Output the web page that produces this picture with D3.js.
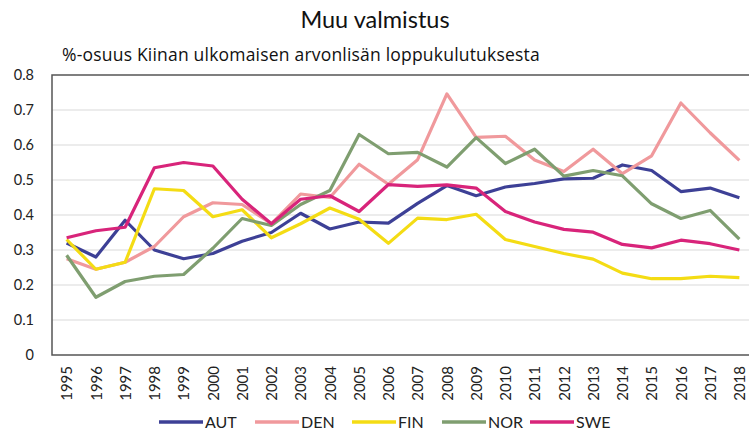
<!DOCTYPE html>
<html>
<head>
<meta charset="utf-8">
<script src="https://cdn.jsdelivr.net/npm/d3@7"></script>
<style>
  body { margin: 0; background: #fff; }
  svg { font-family: Lato, "Open Sans", sans-serif; }
</style>
</head>
<body>
<svg id="chart" width="749" height="433"></svg>
<script>
// data
const years = d3.range(1995, 2019).map(String);
const yTicks = [0, 0.1, 0.2, 0.3, 0.4, 0.5, 0.6, 0.7, 0.8];
const seriesNames = ["AUT", "DEN", "FIN", "NOR", "SWE"];
const aut = [0.32, 0.28, 0.385, 0.30, 0.275, 0.29, 0.325, 0.35, 0.405, 0.36, 0.38, 0.377, 0.433, 0.484, 0.455, 0.48, 0.49, 0.503, 0.505, 0.543, 0.527, 0.467, 0.477, 0.449];
const den = [0.275, 0.245, 0.265, 0.31, 0.395, 0.435, 0.43, 0.375, 0.46, 0.45, 0.545, 0.488, 0.558, 0.746, 0.622, 0.625, 0.557, 0.524, 0.588, 0.518, 0.569, 0.72, 0.635, 0.556];
const fin = [0.33, 0.245, 0.265, 0.475, 0.47, 0.395, 0.415, 0.335, 0.375, 0.42, 0.388, 0.319, 0.391, 0.387, 0.402, 0.33, 0.31, 0.29, 0.274, 0.234, 0.218, 0.218, 0.225, 0.221];
const nor = [0.285, 0.165, 0.21, 0.225, 0.23, 0.305, 0.39, 0.37, 0.43, 0.47, 0.63, 0.575, 0.579, 0.537, 0.621, 0.547, 0.588, 0.511, 0.527, 0.512, 0.432, 0.39, 0.413, 0.331];
const swe = [0.335, 0.355, 0.365, 0.535, 0.55, 0.54, 0.445, 0.375, 0.445, 0.455, 0.41, 0.487, 0.482, 0.486, 0.477, 0.41, 0.38, 0.359, 0.351, 0.316, 0.306, 0.328, 0.318, 0.3];
const colors = ["#3d4096", "#f0999c", "#f4dc14", "#7f9e70", "#d8247a"];

const allSeries = [aut, den, fin, nor, swe].map((vals, i) => ({ name: seriesNames[i], values: vals, color: colors[i] }));

const svg = d3.select("#chart");
const margin = { top: 75, right: -5, bottom: 78, left: 52 };
const W = 749, H = 433;
const innerW = W - margin.left - margin.right;
const innerH = H - margin.top - margin.bottom;

const x = d3.scalePoint().domain(years).range([0, innerW]).padding(0.5);
const y = d3.scaleLinear().domain([0, 0.8]).range([innerH, 0]);

// title + subtitle
svg.append("text").attr("x", 375).attr("y", 28).attr("text-anchor", "middle")
  .style("font-size", "23.5px").style("fill", "#111").text("Muu valmistus");
svg.append("text").attr("x", 62).attr("y", 61)
  .style("font-family", "'Open Sans', sans-serif")
  .style("font-size", "17.5px").style("fill", "#111")
  .style("letter-spacing", "0.2px")
  .text("%-osuus Kiinan ulkomaisen arvonlisän loppukulutuksesta");

const g = svg.append("g").attr("transform", `translate(${margin.left},${margin.top})`);

// gridlines
g.selectAll("line.grid").data(yTicks.filter(d => d > 0 && d < 0.8)).join("line")
  .attr("class", "grid")
  .attr("x1", 0).attr("x2", innerW)
  .attr("y1", d => y(d)).attr("y2", d => y(d))
  .style("stroke", "#d9d9d9").style("stroke-width", 1);

// frame
g.append("path")
  .attr("d", `M${innerW},0H0V${innerH}H${innerW}`)
  .style("fill", "none").style("stroke", "#555").style("stroke-width", 1.5);

// y axis labels
const yAxis = d3.axisLeft(y).tickValues(yTicks).tickSize(0).tickPadding(18)
  .tickFormat(d => d === 0 ? "0" : d3.format(".1f")(d));
g.append("g").call(yAxis).call(a => a.select(".domain").remove())
  .selectAll("text").style("font-size", "14.5px").style("fill", "#222")
  .style("font-family", "Lato, 'Open Sans', sans-serif");

// x axis labels (rotated)
const xAxis = d3.axisBottom(x).tickSize(0).tickPadding(0);
const xg = g.append("g").attr("transform", `translate(0,${innerH})`).call(xAxis);
xg.select(".domain").remove();
xg.selectAll("text")
  .attr("transform", "rotate(-90)")
  .attr("x", -11).attr("y", 0).attr("dy", "0.35em")
  .style("text-anchor", "end").style("font-size", "15px").style("fill", "#222")
  .style("font-family", "Lato, 'Open Sans', sans-serif");

// lines
const line = d3.line().x((d, i) => x(years[i])).y(d => y(d)).curve(d3.curveLinear);
g.selectAll("path.series").data(allSeries).join("path")
  .attr("class", "series")
  .attr("d", d => line(d.values))
  .style("fill", "none")
  .style("stroke", d => d.color)
  .style("stroke-width", 3.2)
  .style("stroke-linejoin", "round");

// legend
const legendX = [159, 255, 352, 442, 530];
const lg = svg.append("g").attr("transform", "translate(0,422)");
const item = lg.selectAll("g").data(allSeries).join("g")
  .attr("transform", (d, i) => `translate(${legendX[i]},0)`);
item.append("line").attr("x1", 0).attr("x2", 44).attr("y1", 0).attr("y2", 0)
  .style("stroke", d => d.color).style("stroke-width", 3.5);
item.append("text").attr("x", 46).attr("y", 0).attr("dy", "0.36em")
  .style("font-size", "16px").style("fill", "#222").text(d => d.name);
</script>
</body>
</html>
